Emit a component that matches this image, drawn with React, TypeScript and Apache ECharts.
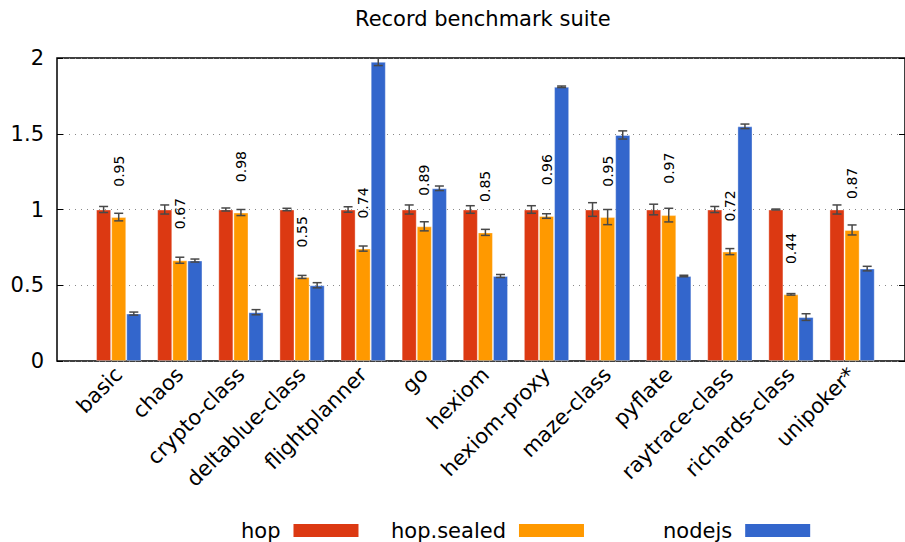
import React, { useEffect, useRef } from "react";
import * as echarts from "echarts";

const categories = [
  "basic", "chaos", "crypto-class", "deltablue-class", "flightplanner", "go", "hexiom",
  "hexiom-proxy", "maze-class", "pyflate", "raytrace-class", "richards-class", "unipoker*",
];
const hopValues = [1, 1, 1, 1, 1, 1, 1, 1, 1, 1, 1, 1, 1];
const hopErrors = [0.02, 0.03, 0.01, 0.008, 0.018, 0.03, 0.025, 0.025, 0.045, 0.035, 0.02, 0.003, 0.03];
const sealedValues = [0.95, 0.665, 0.98, 0.555, 0.742, 0.889, 0.849, 0.957, 0.95, 0.963, 0.722, 0.44, 0.865];
const sealedErrors = [0.025, 0.02, 0.02, 0.01, 0.017, 0.03, 0.02, 0.015, 0.05, 0.045, 0.02, 0.005, 0.033];
const nodeValues = [0.313, 0.663, 0.322, 0.5, 1.975, 1.14, 0.561, 1.81, 1.492, 0.561, 1.549, 0.29, 0.61];
const nodeErrors = [0.01, 0.01, 0.017, 0.017, 0.025, 0.015, 0.01, 0.005, 0.027, 0.005, 0.015, 0.022, 0.015];
const ratioLabels = ["0.95", "0.67", "0.98", "0.55", "0.74", "0.89", "0.85", "0.96", "0.95", "0.97", "0.72", "0.44", "0.87"];
const seriesNames = ["hop", "hop.sealed", "nodejs"];
const seriesColors = ["#dc3912", "#ff9900", "#3366cc"];
const yMin = 0;
const yMax = 2;
const yInterval = 0.5;

const FONT = '"DejaVu Sans", sans-serif';
const GAP = 0.259;

export default function App() {
  const ref = useRef<HTMLDivElement>(null);
  useEffect(() => {
    if (!ref.current) return;
    const chart = echarts.init(ref.current, undefined, { renderer: "svg" });
    const values = [hopValues, sealedValues, nodeValues];
    const errors = [hopErrors, sealedErrors, nodeErrors];
    const errData: number[][] = [];
    values.forEach((arr, s) => arr.forEach((v, i) => errData.push([i, s, v, errors[s][i]])));
    const labelData = ratioLabels.map((l, i) => [i, parseFloat(l) + 0.2]);

    const legends = [
      { name: "hop", left: 241 },
      { name: "hop.sealed", left: 391 },
      { name: "nodejs", left: 663 },
    ].map((l) => ({
      data: [l.name],
      left: l.left,
      top: 520,
      align: "right",
      padding: 0,
      itemGap: 0,
      itemWidth: 65,
      itemHeight: 13,
      icon: "rect",
      itemStyle: { borderWidth: 0 },
      textStyle: { fontSize: 21, color: "#000", fontFamily: FONT, padding: [0, 8, 0, 0] },
    }));

    chart.setOption({
      animation: false,
      backgroundColor: "#fff",
      title: {
        text: "Record benchmark suite",
        left: 355,
        top: 8,
        padding: 0,
        textStyle: { fontSize: 21, fontWeight: "normal", color: "#000", fontFamily: FONT },
      },
      legend: legends,
      grid: [
        { left: 57, top: 58, width: 849, height: 303, show: true, borderColor: "#000", borderWidth: 1.5, backgroundColor: "transparent" },
        { left: 88.15, top: 58, width: 794.5, height: 303 },
      ],
      xAxis: [
        { gridIndex: 0, type: "value", min: 0, max: 1, show: false },
        {
          gridIndex: 1,
          type: "category",
          data: categories,
          axisLine: { show: false },
          axisTick: { show: false },
          axisLabel: { interval: 0, rotate: 45, fontSize: 21, color: "#000", fontFamily: FONT, margin: 10 },
        },
      ],
      yAxis: [
        {
          gridIndex: 0,
          type: "value",
          min: yMin,
          max: yMax,
          interval: yInterval,
          axisLine: { show: false },
          axisTick: { show: true, inside: true, length: 6, lineStyle: { color: "#000" } },
          axisLabel: { fontSize: 21, color: "#000", fontFamily: FONT, margin: 13 },
          splitLine: { show: true, lineStyle: { type: [1, 5], color: "#888", width: 1 } },
        },
        {
          gridIndex: 0,
          type: "value",
          position: "right",
          min: yMin,
          max: yMax,
          interval: yInterval,
          axisLine: { show: false },
          axisTick: { show: true, inside: true, length: 6, lineStyle: { color: "#000" } },
          axisLabel: { show: false },
          splitLine: { show: false },
        },
        { gridIndex: 1, type: "value", min: yMin, max: yMax, show: false },
      ],
      series: [
        ...seriesNames.map((name, s) => ({
          name,
          type: "bar",
          xAxisIndex: 1,
          yAxisIndex: 2,
          data: values[s],
          barGap: "0%",
          barCategoryGap: GAP * 100 + "%",
          itemStyle: { color: seriesColors[s], borderColor: "rgba(255,255,255,0.35)", borderWidth: 1 },
        })),
        {
          type: "custom",
          xAxisIndex: 1,
          yAxisIndex: 2,
          z: 5,
          data: errData,
          encode: { x: 0, y: 2 },
          renderItem: (params: any, api: any) => {
            const idx = api.value(0);
            const s = api.value(1);
            const v = api.value(2);
            const e = api.value(3);
            const band = api.size([1, 0])[0];
            const barW = (band * (1 - GAP)) / 3;
            const c = api.coord([idx, v]);
            const x = c[0] + (s - 1) * barW;
            const yHi = api.coord([idx, v + e])[1];
            const yLo = api.coord([idx, v - e])[1];
            const hw = 4.5;
            const style = { stroke: "#484848", lineWidth: 1.5 };
            return {
              type: "group",
              children: [
                { type: "line", shape: { x1: x, y1: yHi, x2: x, y2: yLo }, style },
                { type: "line", shape: { x1: x - hw, y1: yHi, x2: x + hw, y2: yHi }, style },
                { type: "line", shape: { x1: x - hw, y1: yLo, x2: x + hw, y2: yLo }, style },
              ],
            };
          },
        },
        {
          type: "custom",
          xAxisIndex: 1,
          yAxisIndex: 2,
          z: 6,
          data: labelData,
          encode: { x: 0, y: 1 },
          renderItem: (params: any, api: any) => {
            const c = api.coord([api.value(0), api.value(1)]);
            return {
              type: "text",
              x: c[0],
              y: c[1],
              rotation: Math.PI / 2,
              style: {
                text: ratioLabels[params.dataIndex],
                font: '14px "DejaVu Sans"',
                fill: "#000",
                align: "left",
                verticalAlign: "middle",
              },
            };
          },
        },
      ],
    });
    return () => chart.dispose();
  }, []);
  return (
    <div
      ref={ref}
      style={{ position: "fixed", left: 0, top: 0, width: 905, height: 542 }}
    />
  );
}
